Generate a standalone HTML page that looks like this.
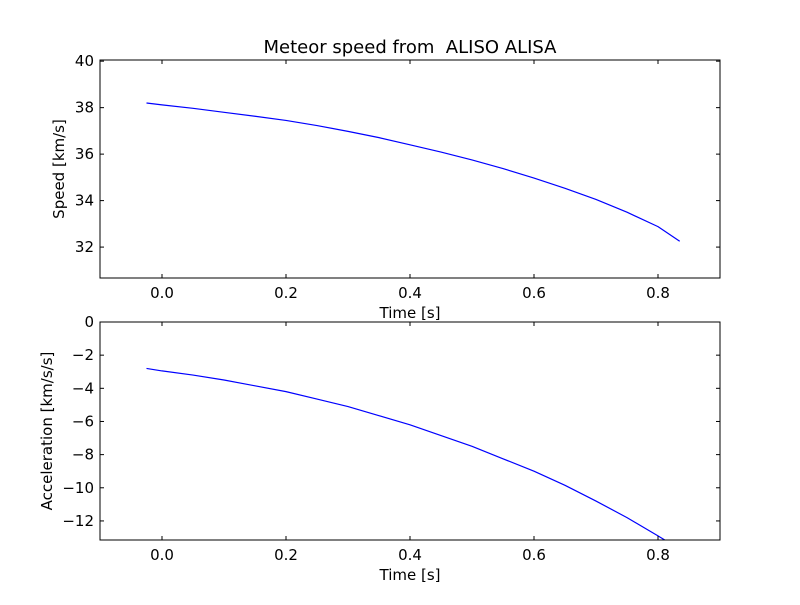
<!DOCTYPE html>
<html><head><meta charset="utf-8"><style>
body{margin:0;background:#fff;}
svg text{font-family:"DejaVu Sans","Liberation Sans",sans-serif;font-size:15px;fill:#000;white-space:pre;}
</style></head><body>
<svg id="c" width="800" height="600">
<rect width="800" height="600" fill="#fff"/>
<text x="410" y="53" text-anchor="middle" xml:space="preserve" style="font-size:18px">Meteor speed from  ALISO ALISA</text>
</svg>
<script>
const speedT=[-0.025,0.0,0.05,0.1,0.15,0.2,0.25,0.3,0.35,0.4,0.45,0.5,0.55,0.6,0.65,0.7,0.75,0.8,0.835];
const speedV=[38.2,38.12,37.97,37.8,37.63,37.45,37.23,36.98,36.71,36.4,36.09,35.75,35.38,34.97,34.53,34.05,33.5,32.88,32.25];
const accT=[-0.025,0.0,0.05,0.1,0.15,0.2,0.25,0.3,0.35,0.4,0.45,0.5,0.55,0.6,0.65,0.7,0.75,0.8,0.835];
const accV=[-2.8,-2.95,-3.2,-3.5,-3.85,-4.2,-4.65,-5.1,-5.65,-6.2,-6.85,-7.5,-8.25,-9.0,-9.85,-10.8,-11.8,-12.9,-13.7];
const xTicks=[0.0,0.2,0.4,0.6,0.8];
const speedTicks=[32,34,36,38,40];
const accTicks=[0,-2,-4,-6,-8,-10,-12];
const NS='http://www.w3.org/2000/svg';
const svg=document.getElementById('c');
function mk(tag,attrs,parent){const e=document.createElementNS(NS,tag);for(const k in attrs)e.setAttribute(k,attrs[k]);(parent||svg).appendChild(e);return e;}
function panel(name,top,bot,ymin,ymax,ts,vs,yt,ylabel,clipId){
  const L=100,R=720,xmin=-0.1,xmax=0.9;
  const X=v=>L+(v-xmin)/(xmax-xmin)*(R-L);
  const Y=v=>bot-(v-ymin)/(ymax-ymin)*(bot-top);
  const g=mk('g',{});
  
  
  const cp=mk('clipPath',{id:clipId},g);mk('rect',{x:L,y:top,width:R-L,height:bot-top},cp);
  const line=mk('polyline',{points:ts.map((t,i)=>X(t)+','+Y(vs[i])).join(' '),fill:'none',stroke:'#0000ff','stroke-width':1.2,'stroke-linejoin':'round','clip-path':'url(#'+clipId+')'},g);
  
  
  const fr=mk('rect',{x:L,y:top,width:R-L,height:bot-top,fill:'none',stroke:'#000','stroke-width':1},g);
  
  
  xTicks.forEach(v=>{const x=X(v);
    mk('line',{x1:x,x2:x,y1:bot,y2:bot-4,stroke:'#000'},g);
    mk('line',{x1:x,x2:x,y1:top,y2:top+4,stroke:'#000'},g);
    const t=mk('text',{x:x,y:bot+20,'text-anchor':'middle'},g);t.textContent=v.toFixed(1);
    
    });
  yt.forEach(v=>{const y=Y(v);
    mk('line',{x1:L,x2:L+4,y1:y,y2:y,stroke:'#000'},g);
    mk('line',{x1:R,x2:R-4,y1:y,y2:y,stroke:'#000'},g);
    const t=mk('text',{x:L-6,y:y+5,'text-anchor':'end'},g);t.textContent=(v<0?'\u2212'+(-v):v);
    
    });
  const xl=mk('text',{x:410,y:bot+40,'text-anchor':'middle'},g);xl.textContent='Time [s]';
  
  
  const cy=(top+bot)/2;
  const yl=mk('text',{x:0,y:0,'text-anchor':'middle',transform:'translate('+(name==='speed'?64:52)+','+cy+') rotate(-90)'},g);yl.textContent=ylabel;
  
  
}
panel('speed',60,278,30.67,40.05,speedT,speedV,speedTicks,'Speed [km/s]','c1');
panel('acceleration',322,540,-13.15,0,accT,accV,accTicks,'Acceleration [km/s/s]','c2');
</script>
</body></html>
